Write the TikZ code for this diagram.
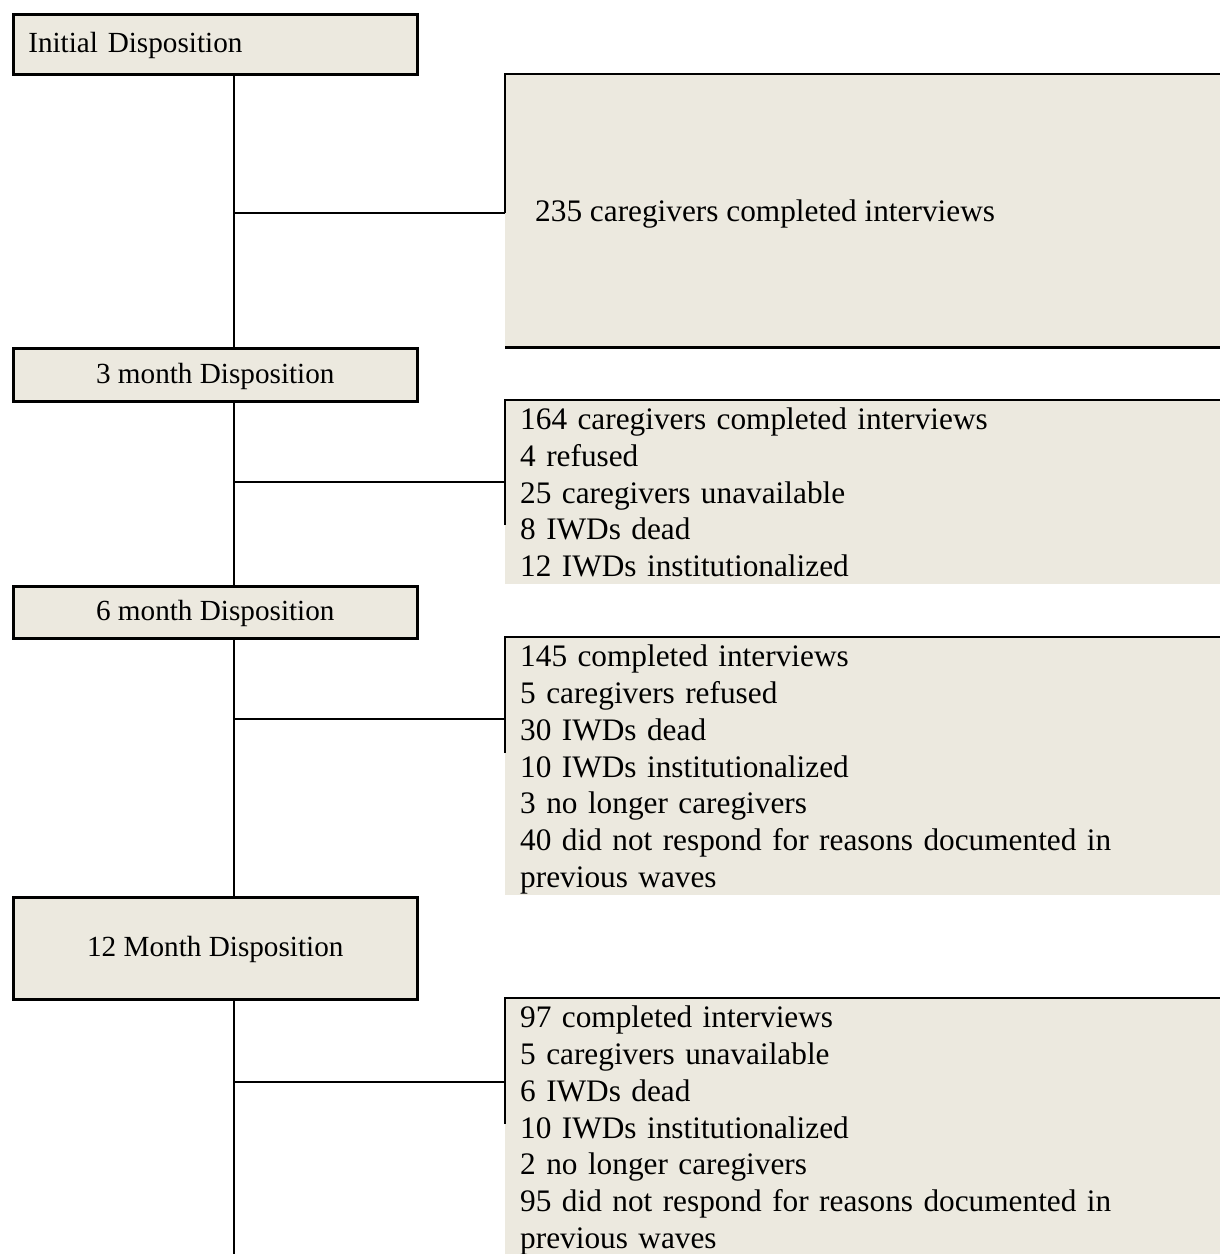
\documentclass[tikz,border=0pt]{standalone}
\usepackage{fontspec}
\setmainfont{Liberation Serif}
\definecolor{boxfill}{RGB}{236,233,223}
\tikzset{
  lbox/.style={draw=black, fill=boxfill, line width=2.6pt, minimum width=404pt,
    inner sep=0pt, anchor=north west, font=\fontsize{29.2}{33.6}\selectfont,
    text height=20pt, text depth=3pt},
  rfill/.style={fill=boxfill, draw=none, inner sep=0pt, minimum width=740pt, anchor=north west},
  rtext/.style={anchor=north west, inner sep=0pt, text width=690pt, align=left,
    font=\fontsize{31.3}{36.7}\selectfont},
  rsingle/.style={anchor=base west, inner sep=0pt, font=\fontsize{31.3}{36.7}\selectfont},
  conn/.style={line width=2.6pt, black},
  rline/.style={line width=2.6pt, black, line join=miter},
}
\begin{document}
\begin{tikzpicture}[x=1pt, y=-1pt]
\useasboundingbox (0,0) rectangle (1220,1254);
\clip (0,0) rectangle (1220,1254);

% right shaded boxes (extend beyond right edge)
\node[rfill, minimum height=273pt] (r1) at (505,74) {};
\node[rfill, minimum height=184pt] (r2) at (505,400) {};
\node[rfill, minimum height=258pt] (r3) at (505,637) {};
\node[rfill, minimum height=262pt] (r4) at (505,998) {};

% left boxes
\node[lbox, minimum height=60pt, text width=374pt, align=left, inner xsep=15pt] (init) at (12,13) {Initial Disposition};
\node[lbox, minimum height=53pt] (m3) at (12,347) {3 month Disposition};
\node[lbox, minimum height=52pt] (m6) at (12,585) {6 month Disposition};
\node[lbox, minimum height=102pt] (m12) at (12,896) {12 Month Disposition};

% junctions on the trunk
\coordinate (j1) at (234,213);
\coordinate (j2) at (234,482);
\coordinate (j3) at (234,719);
\coordinate (j4) at (234,1082);
\coordinate (tend) at (234,1258);

% trunk
\draw[conn] (init.south -| j1) -- (m3.north -| j1);
\draw[conn] (m3.south -| j1) -- (m6.north -| j1);
\draw[conn] (m6.south -| j1) -- (m12.north -| j1);
\draw[conn] (m12.south -| j1) -- (tend);

% branches
\draw[conn] (j1) -- (j1 -| r1.west);
\draw[conn] (j2) -- (j2 -| r2.west);
\draw[conn] (j3) -- (j3 -| r3.west);
\draw[conn] (j4) -- (j4 -| r4.west);

% right box borders
\draw[rline] (r1.west |- j1) -- (r1.north west) -- (r1.north east);
\draw[rline] (r1.south west) -- (r1.south east);
\draw[rline] ([yshift=-125pt]r2.north west) -- (r2.north west) -- (r2.north east);
\draw[rline] ([yshift=-116pt]r3.north west) -- (r3.north west) -- (r3.north east);
\draw[rline] ([yshift=-126pt]r4.north west) -- (r4.north west) -- (r4.north east);

% right box texts
\node[rsingle] (t1) at (535,221) {235 caregivers completed interviews};
\node[rtext] (t2) at (520,404) {\noindent\strut 164 caregivers completed interviews\\
4 refused\\
25 caregivers unavailable\\
8 IWDs dead\\
12 IWDs institutionalized};
\node[rtext] (t3) at (520,641) {\noindent\strut 145 completed interviews\\
5 caregivers refused\\
30 IWDs dead\\
10 IWDs institutionalized\\
3 no longer caregivers\\
40 did not respond for reasons documented in\\
previous waves};
\node[rtext] (t4) at (520,1002) {\noindent\strut 97 completed interviews\\
5 caregivers unavailable\\
6 IWDs dead\\
10 IWDs institutionalized\\
2 no longer caregivers\\
95 did not respond for reasons documented in\\
previous waves};
\end{tikzpicture}
\end{document}
